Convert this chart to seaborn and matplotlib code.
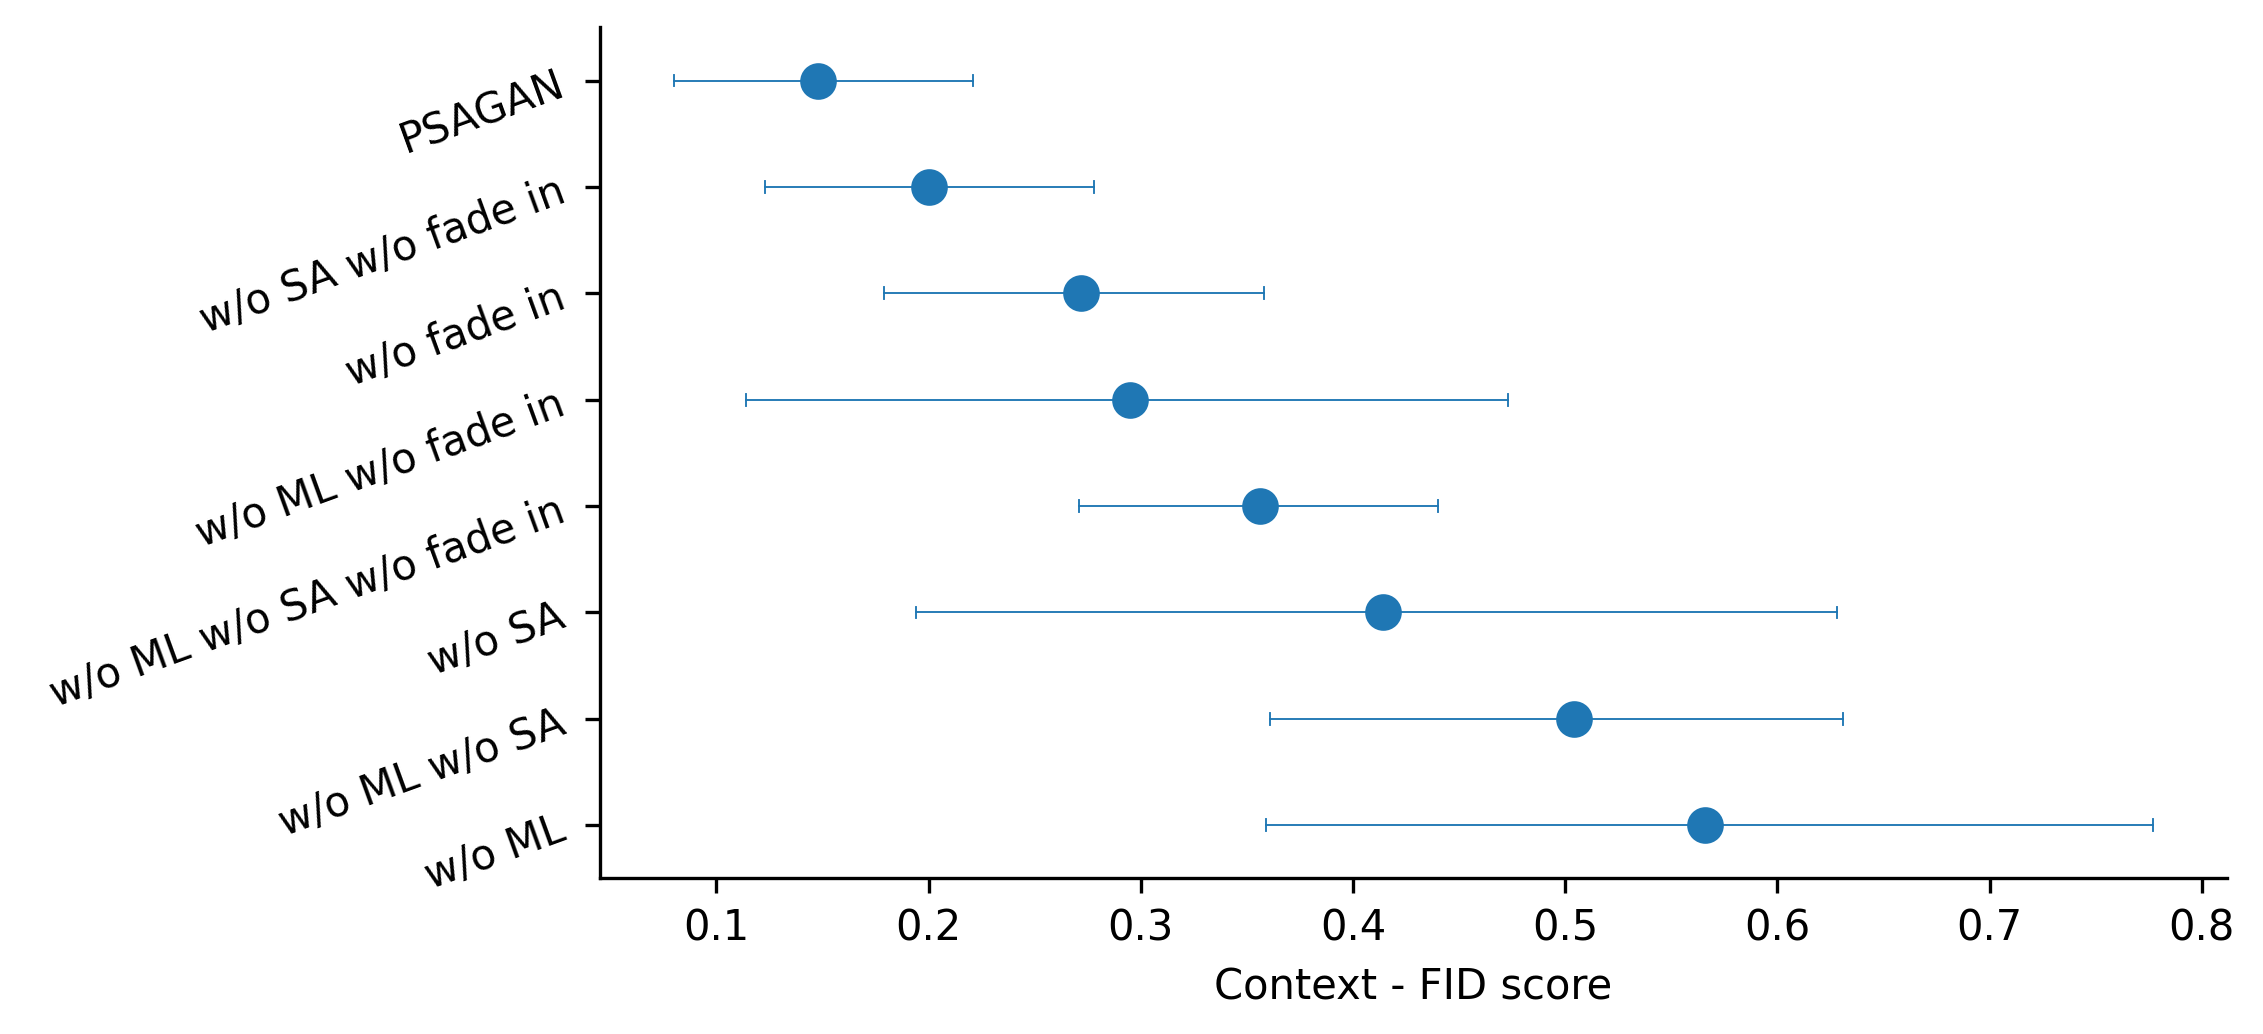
import pandas as pd
import numpy as np
import matplotlib
matplotlib.use('Agg')
import matplotlib.pyplot as plt
import seaborn as sns

# ablation variants, top to bottom
models = ['PSAGAN', 'w/o SA w/o fade in', 'w/o fade in', 'w/o ML w/o fade in',
          'w/o ML w/o SA w/o fade in', 'w/o SA', 'w/o ML w/o SA', 'w/o ML']
# context-FID: mean and interval bounds
fid_mean = [0.148, 0.200, 0.272, 0.295, 0.356, 0.414, 0.504, 0.566]
fid_low = [0.080, 0.123, 0.179, 0.114, 0.271, 0.194, 0.361, 0.359]
fid_high = [0.221, 0.278, 0.358, 0.473, 0.440, 0.628, 0.631, 0.777]

# long form: median gives the centre, 100% interval gives low/high
rows = []
for m, lo, mu, hi in zip(models, fid_low, fid_mean, fid_high):
    for v in (lo, mu, hi):
        rows.append({'model': m, 'fid': v})
df = pd.DataFrame(rows)

plt.rcParams['font.family'] = ['DejaVu Sans']
fig, ax = plt.subplots(figsize=(2263 / 300, 1034 / 300), dpi=300)
fig.subplots_adjust(left=0.2651, right=0.9841, top=0.9735, bottom=0.1506)

sns.pointplot(data=df, x='fid', y='model', order=models,
              estimator='median', errorbar=('pi', 100),
              linestyle='none', capsize=0.11, color='#1f77b4',
              err_kws={'linewidth': 0.45}, ax=ax)

ax.set_xlabel('Context - FID score')
ax.set_ylabel('')
plt.setp(ax.get_yticklabels(), rotation=20)
sns.despine(ax=ax)

fig.savefig('out.png', dpi=300)
